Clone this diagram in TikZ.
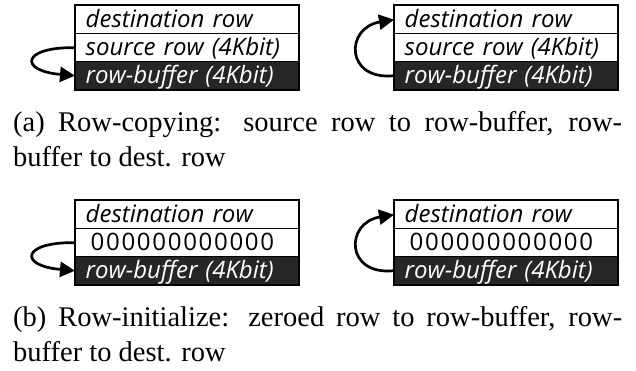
\documentclass[tikz,border=0pt]{standalone}
\usepackage{fontspec}
\setmainfont{Liberation Serif}
\newfontfamily\boxfont{Open Sans}
\usetikzlibrary{arrows.meta}
\definecolor{rowdark}{HTML}{262626}
\newcommand{\zs}{\kern1.7pt}
\newcommand{\zeroline}{0\zs0\zs0\zs0\zs0\zs0\zs0\zs0\zs0\zs0\zs0\zs0}
\begin{document}
\begin{tikzpicture}[x=1pt,y=-1pt,
  rowbox/.style={draw=black, line width=1.4pt, anchor=north west,
    minimum width=223pt, minimum height=28pt, inner xsep=10pt, inner ysep=0pt,
    text width=203pt, align=left, text height=20pt, text depth=4pt,
    font=\boxfont\itshape\fontsize{24}{26}\selectfont},
  darkrow/.style={rowbox, fill=rowdark, text=white},
  zerorow/.style={rowbox, inner xsep=15pt, text width=193pt,
    font=\boxfont\fontsize{24}{26}\selectfont},
  frame/.style={draw=black, line width=2pt},
  copyarrow/.style={line width=2.7pt, -{Triangle[length=15pt,width=15pt]}},
  caption/.style={anchor=base west, inner sep=0pt,
    font=\fontsize{28.5}{35}\selectfont}]
\useasboundingbox (0,0) rectangle (636,370);

% (a) left
\node[rowbox]  (dstA) at (75,5)  {destination row};
\node[rowbox]  (srcA) at (75,33) {source row (4Kbit)};
\node[darkrow] (bufA) at (75,61) {row-buffer (4Kbit)};
\draw[frame] (dstA.north west) rectangle (bufA.south east);
\draw[copyarrow] (srcA.west) .. controls +(-53,-1) and +(-57,-5) .. (bufA.west);

% (a) right
\node[rowbox]  (dstB) at (394,5)  {destination row};
\node[rowbox]  (srcB) at (394,33) {source row (4Kbit)};
\node[darkrow] (bufB) at (394,61) {row-buffer (4Kbit)};
\draw[frame] (dstB.north west) rectangle (bufB.south east);
\draw[copyarrow] (bufB.west) .. controls +(-49,5) and +(-49,8) .. (dstB.west);

\node[caption] (capA1) at (13,131) {\makebox[609pt][s]{(a) Row-copying: source row to row-buffer, row-}};
\node[caption] (capA2) at (13,166) {buffer to dest. row};

% (b) left
\node[rowbox]  (dstC) at (75,200) {destination row};
\node[zerorow] (zerC) at (75,228) {\zeroline};
\node[darkrow] (bufC) at (75,256) {row-buffer (4Kbit)};
\draw[frame] (dstC.north west) rectangle (bufC.south east);
\draw[copyarrow] (zerC.west) .. controls +(-53,-1) and +(-57,-5) .. (bufC.west);

% (b) right
\node[rowbox]  (dstD) at (394,200) {destination row};
\node[zerorow] (zerD) at (394,228) {\zeroline};
\node[darkrow] (bufD) at (394,256) {row-buffer (4Kbit)};
\draw[frame] (dstD.north west) rectangle (bufD.south east);
\draw[copyarrow] (bufD.west) .. controls +(-49,5) and +(-49,8) .. (dstD.west);

\node[caption] (capB1) at (13,326) {\makebox[609pt][s]{(b) Row-initialize: zeroed row to row-buffer, row-}};
\node[caption] (capB2) at (13,361) {buffer to dest. row};
\end{tikzpicture}
\end{document}
